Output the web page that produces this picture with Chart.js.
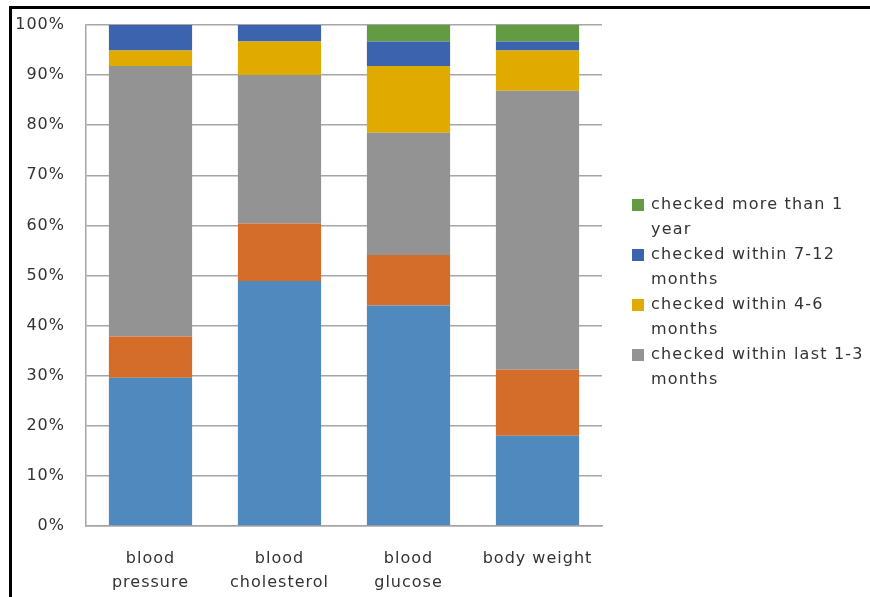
<!DOCTYPE html>
<html>
<head>
<meta charset="utf-8">
<script src="https://cdn.jsdelivr.net/npm/chart.js@4/dist/chart.umd.min.js"></script>
<style>
  html, body { margin: 0; padding: 0; background: #fff; }
  #wrap { position: relative; width: 870px; height: 597px; overflow: hidden; }
  #frame { position: absolute; left: 9px; top: 6px; right: 0; bottom: 0;
           border-top: 3px solid #000; border-left: 3px solid #000; pointer-events: none; }
  canvas { display: block; }
</style>
</head>
<body>
<div id="wrap">
  <canvas id="c" width="870" height="597"></canvas>
  <div id="frame"></div>
</div>
<script>
// Categories (x axis), two-line where the label wraps
const categories = [
  ['blood', 'pressure'],
  ['blood', 'cholesterol'],
  ['blood', 'glucose'],
  'body weight'
];

// Share of respondents (%) per category, stacked bottom to top
const neverChecked      = [29.6, 48.9, 44.0, 18.0];
const notSure           = [ 8.2, 11.5, 10.1, 13.2];
const within1to3Months  = [54.0, 29.6, 24.4, 55.7];
const within4to6Months  = [ 3.1,  6.7, 13.3,  8.0];
const within7to12Months = [ 5.1,  3.3,  4.9,  1.8];
const moreThan1Year     = [ 0.0,  0.0,  3.3,  3.3];

// Y axis ticks
const yTicks = [0, 10, 20, 30, 40, 50, 60, 70, 80, 90, 100];

const seriesNames = [
  'never checked',
  'not sure',
  'checked within last 1-3 months',
  'checked within 4-6 months',
  'checked within 7-12 months',
  'checked more than 1 year'
];
const seriesColors = ['#4F89BD', '#D36D29', '#939393', '#E1AA00', '#3C64AE', '#629B42'];
const seriesValues = [neverChecked, notSure, within1to3Months, within4to6Months, within7to12Months, moreThan1Year];

// Legend lists the top four series, top of stack first
const legendOrder = [5, 4, 3, 2];

const FONT = '"DejaVu Sans", sans-serif';
const TEXT = '#333333';

const spacing = {
  id: 'spacing',
  beforeLayout(chart) { chart.ctx.letterSpacing = '1px'; },
  beforeDraw(chart) { chart.ctx.letterSpacing = '1px'; }
};

const sideLegend = {
  id: 'sideLegend',
  afterDraw(chart) {
    const ctx = chart.ctx;
    ctx.save();
    ctx.letterSpacing = '1.2px';
    ctx.font = '16px ' + FONT;
    ctx.textBaseline = 'middle';
    ctx.textAlign = 'left';
    const boxX = 632, textX = 651, maxW = 216, lineH = 25;
    let y = 205;
    legendOrder.forEach(idx => {
      const ds = chart.data.datasets[idx];
      ctx.fillStyle = ds.backgroundColor;
      ctx.fillRect(boxX, y - 6, 12, 12);
      // wrap the name into lines that fit the legend column
      const words = ds.label.split(' ');
      const lines = [];
      let cur = '';
      words.forEach(w => {
        const t = cur ? cur + ' ' + w : w;
        if (ctx.measureText(t).width > maxW && cur) { lines.push(cur); cur = w; }
        else cur = t;
      });
      if (cur) lines.push(cur);
      ctx.fillStyle = TEXT;
      lines.forEach((ln, k) => ctx.fillText(ln, textX, y + k * lineH));
      y += lines.length * lineH;
    });
    ctx.restore();
  }
};

new Chart(document.getElementById('c'), {
  type: 'bar',
  data: {
    labels: categories,
    datasets: seriesValues.map((vals, i) => ({
      label: seriesNames[i],
      data: vals,
      backgroundColor: seriesColors[i],
      borderWidth: 0,
      barPercentage: 0.645,
      categoryPercentage: 1.0
    }))
  },
  options: {
    responsive: false,
    animation: false,
    events: [],
    layout: { padding: { top: 25, right: 268, bottom: 0, left: 0 } },
    plugins: { legend: { display: false }, tooltip: { enabled: false } },
    scales: {
      x: {
        stacked: true,
        grid: { display: false, drawTicks: false },
        border: { display: true, color: '#a6a6a6', width: 1.5 },
        ticks: { color: TEXT, font: { family: FONT, size: 16, lineHeight: 1.5 }, padding: 21, maxRotation: 0, autoSkip: false },
        afterFit(scale) { scale.height = 71; }
      },
      y: {
        stacked: true,
        min: 0,
        max: 100,
        afterBuildTicks(scale) { scale.ticks = yTicks.map(v => ({ value: v })); },
        grid: { color: '#a6a6a6', lineWidth: 1.5, drawTicks: false },
        border: { display: true, color: '#a6a6a6', width: 1.5 },
        ticks: { color: TEXT, font: { family: FONT, size: 16 }, padding: 21, callback: v => v + '%' },
        afterFit(scale) {
          scale.width = 86;
          scale.paddingTop = 0;
          scale.paddingBottom = 0;
        }
      }
    }
  },
  plugins: [spacing, sideLegend]
});
</script>
</body>
</html>
